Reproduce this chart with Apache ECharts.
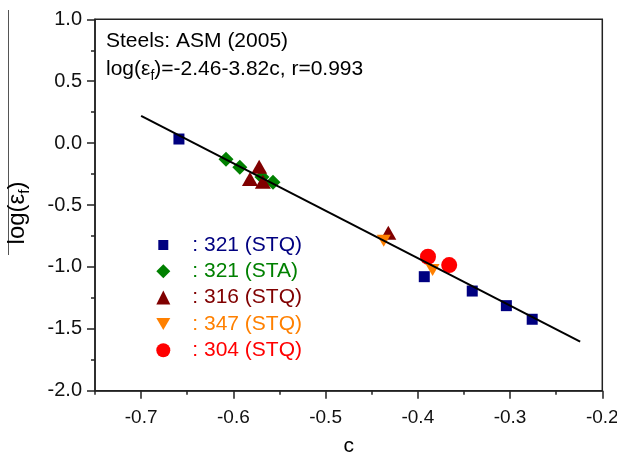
<!DOCTYPE html>
<html>
<head>
<meta charset="utf-8">
<script src="https://cdn.jsdelivr.net/npm/echarts@6/dist/echarts.min.js"></script>
<style>html,body{margin:0;padding:0;background:#fff;}#chart{width:617px;height:453px;}</style>
</head>
<body>
<div id="chart"></div>
<script>
// ---- data ----
var c321STQ = [-0.659, -0.393, -0.341, -0.304, -0.276];
var y321STQ = [0.033, -1.079, -1.195, -1.313, -1.423];
var c321STA = [-0.608, -0.593, -0.569, -0.557];
var y321STA = [-0.131, -0.195, -0.274, -0.317];
var c316STQ = [-0.572, -0.582, -0.568, -0.432];
var y316STQ = [-0.191, -0.290, -0.312, -0.724];
var c347STQ = [-0.437, -0.384];
var y347STQ = [-0.788, -1.025];
var c304STQ = [-0.389, -0.366];
var y304STQ = [-0.918, -0.985];
var fitC = [-0.700, -0.224];
var fitY = [0.22, -1.604];
var seriesNames = ['321 (STQ)', '321 (STA)', '316 (STQ)', '347 (STQ)', '304 (STQ)'];
var xMajorTicks = [-0.7, -0.6, -0.5, -0.4, -0.3, -0.2];
var yTicks = [-2.0, -1.5, -1.0, -0.5, 0.0, 0.5, 1.0];

function zip(a, b) { return a.map(function (v, i) { return [v, b[i]]; }); }

var FONT = '"Liberation Sans", Arial, sans-serif';
var cols = ['#000080', '#008000', '#800000', '#FF8000', '#FF0000'];
var downTri = 'path://M0,0L16,0L8,13.86Z';

var chart = echarts.init(document.getElementById('chart'), null, {renderer: 'canvas'});
chart.setOption({
  animation: false,
  backgroundColor: '#fff',
  textStyle: {fontFamily: FONT},
  title: {
    left: 106, top: 27, padding: 0,
    text: '{a|Steels: ASM (2005)}\n{a|log(ε}{s|f}{a|)=-2.46-3.82c, r=0.993}',
    textStyle: {
      fontWeight: 'normal',
      rich: {
        a: {fontSize: 21, lineHeight: 28, color: '#000', fontWeight: 'normal', fontFamily: FONT},
        s: {fontSize: 14, lineHeight: 18, verticalAlign: 'bottom', color: '#000', fontWeight: 'normal', fontFamily: FONT}
      }
    }
  },
  grid: {left: 95, right: 14.7, top: 19.3, bottom: 62.3, show: true, borderColor: '#222', borderWidth: 1.5,
    backgroundColor: 'transparent', containLabel: false, outerBoundsMode: 'none'},
  legend: {
    orient: 'vertical', left: 156.3, top: 234.5, padding: 0,
    itemWidth: 14, itemHeight: 14, itemGap: 5.3,
    formatter: function (n) { return ': ' + n; },
    textStyle: {fontSize: 21, lineHeight: 21, fontFamily: FONT, padding: [0, 0, 0, 17]},
    data: [
      {name: seriesNames[0], icon: 'path://M0,0M14,14M2,2h10v10h-10z', textStyle: {color: cols[0]}},
      {name: seriesNames[1], icon: 'diamond', textStyle: {color: cols[1]}},
      {name: seriesNames[2], icon: 'triangle', textStyle: {color: cols[2]}},
      {name: seriesNames[3], icon: 'path://M0,0M14,14M0,1L14,1L7,13.1Z', textStyle: {color: cols[3]}},
      {name: seriesNames[4], icon: 'circle', textStyle: {color: cols[4]}}
    ]
  },
  xAxis: [{
    type: 'value', min: -0.75, max: -0.2, position: 'bottom',
    name: 'c', nameLocation: 'middle', nameGap: 45,
    nameTextStyle: {fontSize: 21, color: '#000', fontFamily: FONT},
    axisLine: {show: true, onZero: false, lineStyle: {color: '#222', width: 1.5}},
    axisTick: {show: true, length: 8, customValues: xMajorTicks, lineStyle: {color: '#222', width: 1.5}},
    axisLabel: {customValues: xMajorTicks, fontSize: 19, color: '#111', margin: 18, fontFamily: FONT,
      formatter: function (v) { return v.toFixed(1); }},
    splitLine: {show: false}
  }, {
    type: 'value', min: -0.75, max: -0.2, interval: 0.05, position: 'bottom',
    axisLine: {show: false, onZero: false},
    axisTick: {show: true, length: 4, lineStyle: {color: '#222', width: 1.5}},
    axisLabel: {show: false},
    splitLine: {show: false}
  }],
  yAxis: {
    type: 'value', min: -2, max: 1, interval: 0.5,
    axisLine: {show: true, onZero: false, lineStyle: {color: '#222', width: 1.5}},
    axisTick: {show: true, length: 8, lineStyle: {color: '#222', width: 1.5}},
    minorTick: {show: true, splitNumber: 2, length: 4, lineStyle: {color: '#222', width: 1.5}},
    axisLabel: {fontSize: 20, color: '#111', margin: 13, fontFamily: FONT,
      formatter: function (v) { return v.toFixed(1); }},
    splitLine: {show: false}
  },
  graphic: [
    {type: 'line', shape: {x1: 8.5, y1: 10, x2: 8.5, y2: 255}, style: {stroke: '#555', lineWidth: 1}, silent: true},
    {type: 'text', x: 17, y: 213, rotation: Math.PI / 2,
      style: {
        text: '{a|log(ε}{s|f}{a|)}', align: 'center', verticalAlign: 'middle',
        rich: {
          a: {fontSize: 24, lineHeight: 30, fill: '#000', fontFamily: FONT},
          s: {fontSize: 15, lineHeight: 20, verticalAlign: 'bottom', fill: '#000', fontFamily: FONT}
        }
      }}
  ],
  series: [
    {name: seriesNames[0], type: 'scatter', data: zip(c321STQ, y321STQ), symbol: 'rect', symbolSize: 11, itemStyle: {color: cols[0], opacity: 1}, z: 2},
    {name: seriesNames[1], type: 'scatter', data: zip(c321STA, y321STA), symbol: 'diamond', symbolSize: 15, itemStyle: {color: cols[1], opacity: 1}, z: 2},
    {name: seriesNames[2], type: 'scatter', data: zip(c316STQ, y316STQ), symbol: 'triangle', symbolSize: [16, 14], itemStyle: {color: cols[2], opacity: 1}, z: 2},
    {name: seriesNames[4], type: 'scatter', data: zip(c304STQ, y304STQ), symbol: 'circle', symbolSize: 16, itemStyle: {color: cols[4], opacity: 1}, z: 2},
    {name: seriesNames[3], type: 'scatter', data: zip(c347STQ, y347STQ), symbol: downTri, symbolSize: [14, 12], itemStyle: {color: cols[3], opacity: 1}, z: 2},
    {name: 'fit', type: 'line', data: zip(fitC, fitY), symbol: 'none', lineStyle: {color: '#000', width: 2}, z: 5}
  ]
});
</script>
</body>
</html>
